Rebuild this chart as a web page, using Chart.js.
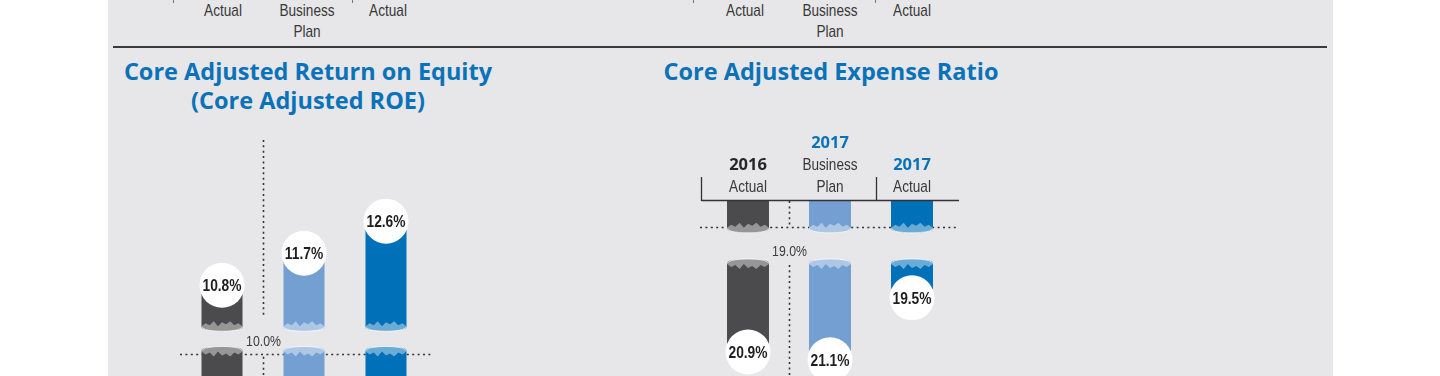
<!DOCTYPE html>
<html>
<head>
<meta charset="utf-8">
<script src="https://cdn.jsdelivr.net/npm/chart.js@4.4.1/dist/chart.umd.min.js"></script>
<style>
  html, body { margin: 0; padding: 0; background: #fff; }
  #page { position: relative; width: 1440px; height: 376px; overflow: hidden; background: #fff; }
  #panel { position: absolute; left: 108px; top: 0; width: 1225px; height: 376px; background: #e7e7e9; }
  #rule { position: absolute; left: 113px; top: 46px; width: 1214px; height: 2px; background: #3a3a3a; }
  .tick { position: absolute; top: 0; width: 1px; height: 3px; background: #777; }
  .lbl { position: absolute; width: 100px; margin-left: -50px; text-align: center; top: 1px;
         font: 17px/20.5px "Liberation Sans", Arial, sans-serif; color: #383838;
         transform: scaleX(0.8); }
  .title { position: absolute; width: 500px; margin-left: -250px; text-align: center; top: 56.5px;
           font: 700 23.5px/29px "Open Sans", sans-serif; color: #0a72b9; white-space: nowrap; }
  canvas { position: absolute; }
</style>
</head>
<body>
<div id="page">
  <div id="panel"></div>
  <div class="tick" style="left:173px"></div>
  <div class="tick" style="left:352px"></div>
  <div class="tick" style="left:693px"></div>
  <div class="tick" style="left:875px"></div>
  <div class="lbl" style="left:223px">Actual</div>
  <div class="lbl" style="left:307px">Business<br>Plan</div>
  <div class="lbl" style="left:388px">Actual</div>
  <div class="lbl" style="left:745px">Actual</div>
  <div class="lbl" style="left:830px">Business<br>Plan</div>
  <div class="lbl" style="left:912px">Actual</div>
  <div id="rule"></div>
  <div class="title" style="left:308px">Core Adjusted Return on Equity<br>(Core Adjusted ROE)</div>
  <div class="title" style="left:831px">Core Adjusted Expense Ratio</div>
  <canvas id="roeChart" width="512" height="285" style="left:108px;top:100px"></canvas>
  <canvas id="expChart" width="400" height="372" style="left:620px;top:100px"></canvas>
</div>

<script>
// data
const categories = ["2016 Actual", "2017 Business Plan", "2017 Actual"];
const headerYears = ["2016", "2017", "2017"];
const headerLines = [["Actual"], ["Business", "Plan"], ["Actual"]];
const roeValues = [10.8, 11.7, 12.6];
const roeTarget = 10.0;
const expenseValues = [20.9, 21.1, 19.5];
const expenseTarget = 19.0;

// colours
const barColors = ["#4b4b4d", "#739fd3", "#0070b8"];
const yearColors = ["#262626", "#0a72b9", "#0a72b9"];

// broken axis: upper part of bar starts at mainFrom, short stub runs min..stubTo,
// the target line sits in the stub part so it is drawn shifted by refShift
const roeAxis = { min: 8, max: 16, mainFrom: 9.62, stubTo: 8.97, refShift: 1.14 };
const expenseAxis = { min: 17, max: 24, mainFrom: 18.60, stubTo: 17.72, refShift: 1.33 };

const SANS = '"Liberation Sans", Arial, sans-serif';

// condensed text: regular face squeezed horizontally
function text(ctx, s, x, y, font, color, squeeze) {
    ctx.save();
    ctx.font = font;
    ctx.fillStyle = color;
    ctx.textAlign = "center";
    ctx.textBaseline = "alphabetic";
    ctx.translate(x, y);
    ctx.scale(squeeze || 1, 1);
    ctx.fillText(s, 0, 0);
    ctx.restore();
}

function line(ctx, x0, y0, x1, y1) {
    ctx.beginPath();
    ctx.moveTo(x0, y0);
    ctx.lineTo(x1, y1);
    ctx.stroke();
}

// torn end of a broken bar, dir = +1 when the free end points down
function drawBreak(ctx, cx, w, y0, dir, color) {
    const L = cx - w / 2;
    const jag = [1, 4, 2, 6, 1, 5, 3, 6, 2, 4, 1];
    const n = jag.length - 1;
    const rim = i => { const t = (i / n) * 2 - 1; return y0 + dir * 4 * Math.sqrt(Math.max(0, 1 - t * t)); };

    ctx.fillStyle = color;
    ctx.beginPath();
    ctx.ellipse(cx, y0, w / 2, 4, 0, 0, Math.PI * 2);
    ctx.fill();

    ctx.fillStyle = "rgba(255,255,255,0.42)";
    ctx.beginPath();
    jag.forEach((j, i) => ctx.lineTo(L + i * w / n, y0 - dir * j));
    for (let i = n; i >= 0; i--) ctx.lineTo(L + i * w / n, rim(i));
    ctx.closePath();
    ctx.fill();

    ctx.strokeStyle = "rgba(255,255,255,0.75)";
    ctx.lineWidth = 1;
    ctx.beginPath();
    for (let i = 0; i <= n; i++) ctx.lineTo(L + i * w / n, rim(i));
    ctx.stroke();
}

const brokenBars = {
    id: "brokenBars",
    beforeDatasetsDraw(chart, args, opts) {
        const { ctx, chartArea: a, scales: { x, y } } = chart;
        ctx.save();
        ctx.strokeStyle = "#333";
        ctx.lineWidth = 1.6;
        ctx.setLineDash([2, 3.4]);
        const ry = Math.round(y.getPixelForValue(opts.target - opts.axis.refShift)) + 0.5;
        line(ctx, a.left + opts.refFrom, ry, a.right + opts.refTo, ry);
        const dx = Math.round((x.getPixelForValue(0) + x.getPixelForValue(1)) / 2) + 0.5;
        opts.divider.forEach(([v0, v1]) => line(ctx, dx, y.getPixelForValue(v0), dx, y.getPixelForValue(v1)));
        ctx.setLineDash([]);
        text(ctx, opts.target.toFixed(1) + "%", dx, ry + opts.refLabelDy, "15px " + SANS, "#3c3c3c", 0.82);
        ctx.restore();
    },
    afterDatasetsDraw(chart, args, opts) {
        const { ctx, scales: { y } } = chart;
        const main = chart.getDatasetMeta(0).data;
        const stub = chart.getDatasetMeta(1).data;
        ctx.save();
        opts.values.forEach((v, i) => {
            const el = main[i];
            const w = el.width;
            const yv = y.getPixelForValue(v);
            const yMain = y.getPixelForValue(opts.axis.mainFrom);
            const yStub = y.getPixelForValue(opts.axis.stubTo);
            const yMin = y.getPixelForValue(opts.axis.min);
            drawBreak(ctx, el.x, w, yMain, Math.sign(yMain - yv), barColors[i]);
            drawBreak(ctx, stub[i].x, w, yStub, Math.sign(yStub - yMin), barColors[i]);

            ctx.fillStyle = "#fff";
            ctx.beginPath();
            ctx.arc(el.x, yv, 22.5, 0, Math.PI * 2);
            ctx.fill();
            text(ctx, v.toFixed(1) + "%", el.x, yv + 6, "bold 16px " + SANS, "#1e1e1e", 0.86);
        });
        ctx.restore();
    },
    afterDraw(chart, args, opts) {
        if (!opts.header) return;
        const { ctx, chartArea: a, scales: { x } } = chart;
        ctx.save();
        ctx.strokeStyle = "#333";
        ctx.lineWidth = 1.3;
        const top = a.top - 24;
        const gx = Math.round((x.getPixelForValue(1) + x.getPixelForValue(2)) / 2) + 5.5;
        line(ctx, a.left - 5.5, top, a.left - 5.5, a.top);
        line(ctx, gx, top, gx, a.top);
        line(ctx, a.left - 5.5, a.top - 0.5, a.right + 6, a.top - 0.5);
        headerLines.forEach((lines, i) => {
            const cx = x.getPixelForValue(i);
            let by = a.top - 9.3;
            for (let k = lines.length - 1; k >= 0; k--) {
                text(ctx, lines[k], cx, by, "17px " + SANS, "#383838", 0.8);
                by -= 21.7;
            }
            text(ctx, headerYears[i], cx, by, "bold 16.5px 'Open Sans', sans-serif", yearColors[i]);
        });
        ctx.restore();
    }
};

function makeChart(id, values, axis, deco) {
    return new Chart(document.getElementById(id), {
        type: "bar",
        data: {
            labels: categories,
            datasets: [
                { data: values.map(v => [axis.mainFrom, v]), backgroundColor: barColors },
                { data: values.map(() => [axis.min, axis.stubTo]), backgroundColor: barColors }
            ]
        },
        options: {
            responsive: false,
            animation: false,
            events: [],
            layout: { padding: deco.padding },
            datasets: {
                bar: { grouped: false, barPercentage: 1, categoryPercentage: deco.barShare, borderWidth: 0 }
            },
            scales: {
                x: { display: false },
                y: { display: false, min: axis.min, max: axis.max, reverse: deco.reverse }
            },
            plugins: {
                legend: { display: false },
                tooltip: { enabled: false },
                brokenBars: {
                    values: values,
                    axis: axis,
                    target: deco.target,
                    refFrom: deco.refFrom,
                    refTo: deco.refTo,
                    refLabelDy: deco.refLabelDy,
                    divider: deco.divider,
                    header: deco.header
                }
            }
        },
        plugins: [brokenBars]
    });
}

makeChart("roeChart", roeValues, roeAxis, {
    target: roeTarget,
    padding: { left: 73, right: 193, top: 0, bottom: 0 },
    barShare: 0.5,
    reverse: false,
    refFrom: -1, refTo: 6, refLabelDy: -9,
    divider: [[14.88, 9.96], [8.79, 8]],
    header: false
});

makeChart("expChart", expenseValues, expenseAxis, {
    target: expenseTarget,
    padding: { left: 87, right: 67, top: 101, bottom: 0 },
    barShare: 0.512,
    reverse: true,
    refFrom: -7, refTo: 6, refLabelDy: 28,
    divider: [[17, 17.62], [18.65, 24]],
    header: true
});
</script>
</body>
</html>
